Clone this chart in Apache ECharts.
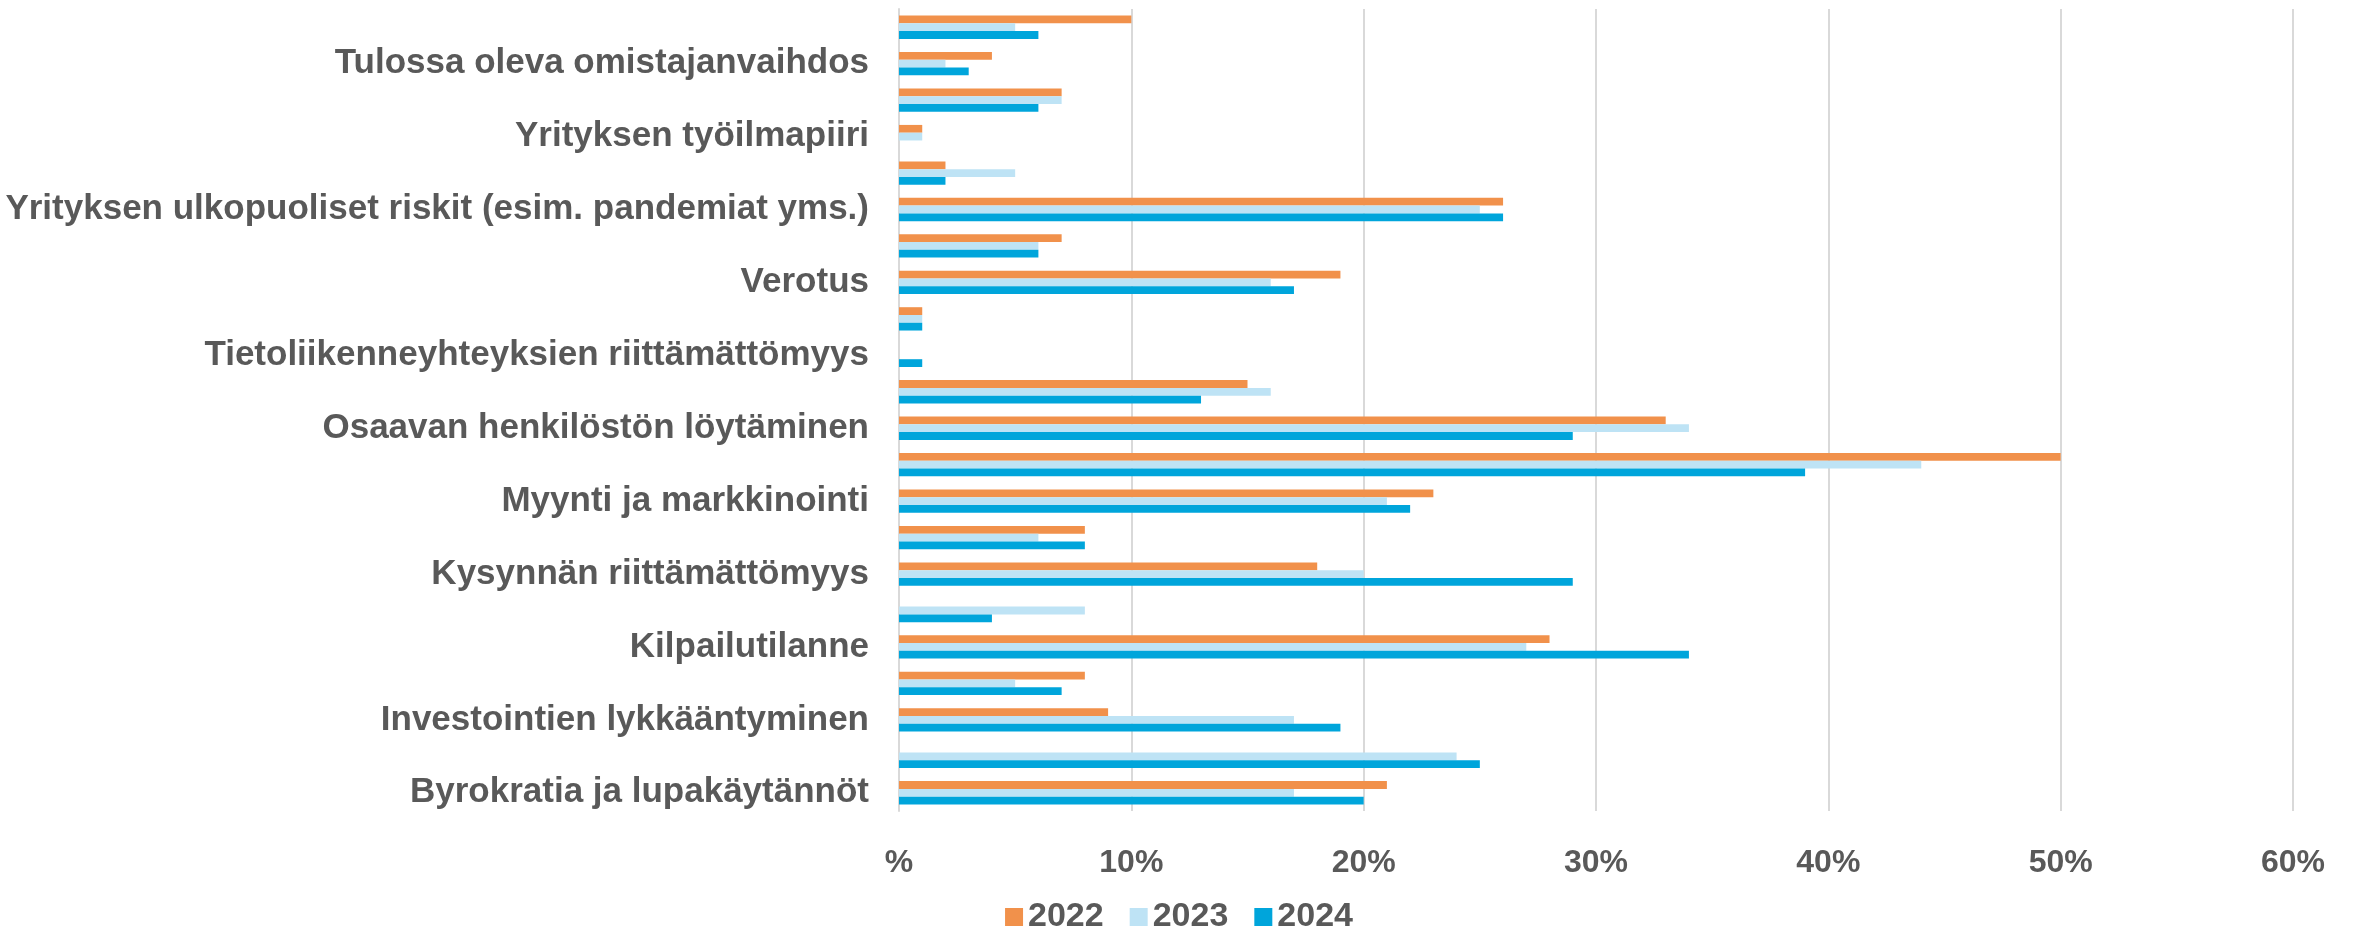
<!DOCTYPE html>
<html>
<head>
<meta charset="utf-8">
<script src="https://cdn.jsdelivr.net/npm/echarts@6/dist/echarts.min.js"></script>
<style>
html,body{margin:0;padding:0;background:#fff;}
#chart{width:2358px;height:933px;}
</style>
</head>
<body>
<div id="chart"></div>
<script>
// categories from bottom to top (every other label is shown in the reference)
const categories = [
  "Byrokratia ja lupakäytännöt",
  "Energian hinta",
  "Investointien lykkääntyminen",
  "Kannattavuus",
  "Kilpailutilanne",
  "Kustannustason nousu",
  "Kysynnän riittämättömyys",
  "Logistiikka",
  "Myynti ja markkinointi",
  "Omarahoituksen riittämättömyys",
  "Osaavan henkilöstön löytäminen",
  "Rahoituksen saatavuus",
  "Tietoliikenneyhteyksien riittämättömyys",
  "Toimitilat",
  "Verotus",
  "Yleinen taloustilanne",
  "Yrityksen ulkopuoliset riskit (esim. pandemiat yms.)",
  "Yrityksen sisäiset riskit",
  "Yrityksen työilmapiiri",
  "Yrityksen kasvu",
  "Tulossa oleva omistajanvaihdos",
  "Muu"
];
const values2022 = [21, 0, 9, 8, 28, 0, 18, 8, 23, 50, 33, 15, 0, 1, 19, 7, 26, 2, 1, 7, 4, 10];
const values2023 = [17, 24, 17, 5, 27, 8, 20, 6, 21, 44, 34, 16, 0, 1, 16, 6, 25, 5, 1, 7, 2, 5];
const values2024 = [20, 25, 19, 7, 34, 4, 29, 8, 22, 39, 29, 13, 1, 1, 17, 6, 26, 2, 0, 6, 3, 6];
const seriesNames = ["2022", "2023", "2024"];
const colors = ["#F1914B", "#BEE3F5", "#00A5DB"];
const xTicks = [0, 10, 20, 30, 40, 50, 60];

const chart = echarts.init(document.getElementById('chart'), null, {renderer: 'canvas'});
const font = 'Liberation Sans, Arial, sans-serif';
const textColor = '#595959';
const gridColor = '#D9D9D9';

const allValues = [values2022, values2023, values2024];
chart.setOption({
  animation: false,
  color: colors,
  grid: {left: 899, right: 65, top: 9, bottom: 122, containLabel: false},
  legend: {
    data: seriesNames,
    left: 'center',
    top: 895,
    itemWidth: 18,
    itemHeight: 18,
    itemGap: 26,
    icon: 'rect',
    textStyle: {fontFamily: font, fontWeight: 'bold', fontSize: 34, color: textColor}
  },
  xAxis: {
    type: 'value',
    min: xTicks[0],
    max: xTicks[xTicks.length - 1],
    interval: 10,
    axisLine: {show: false},
    axisTick: {show: false},
    splitLine: {show: true, lineStyle: {color: gridColor, width: 2}},
    axisLabel: {
      margin: 36,
      fontFamily: font, fontWeight: 'bold', fontSize: 32, color: textColor,
      formatter: v => (v === 0 ? '%' : v + '%')
    }
  },
  yAxis: {
    type: 'category',
    data: categories,
    axisLine: {show: true, lineStyle: {color: gridColor, width: 2}},
    axisTick: {show: false},
    splitLine: {show: false},
    axisLabel: {
      interval: 1,
      margin: 30,
      fontFamily: font, fontWeight: 'bold', fontSize: 35, color: textColor
    }
  },
  series: seriesNames.map((name, i) => ({
    name: name,
    type: 'bar',
    data: allValues[i],
    barGap: '0%',
    barCategoryGap: '36%',
    itemStyle: {color: colors[i]}
  }))
});
</script>
</body>
</html>
